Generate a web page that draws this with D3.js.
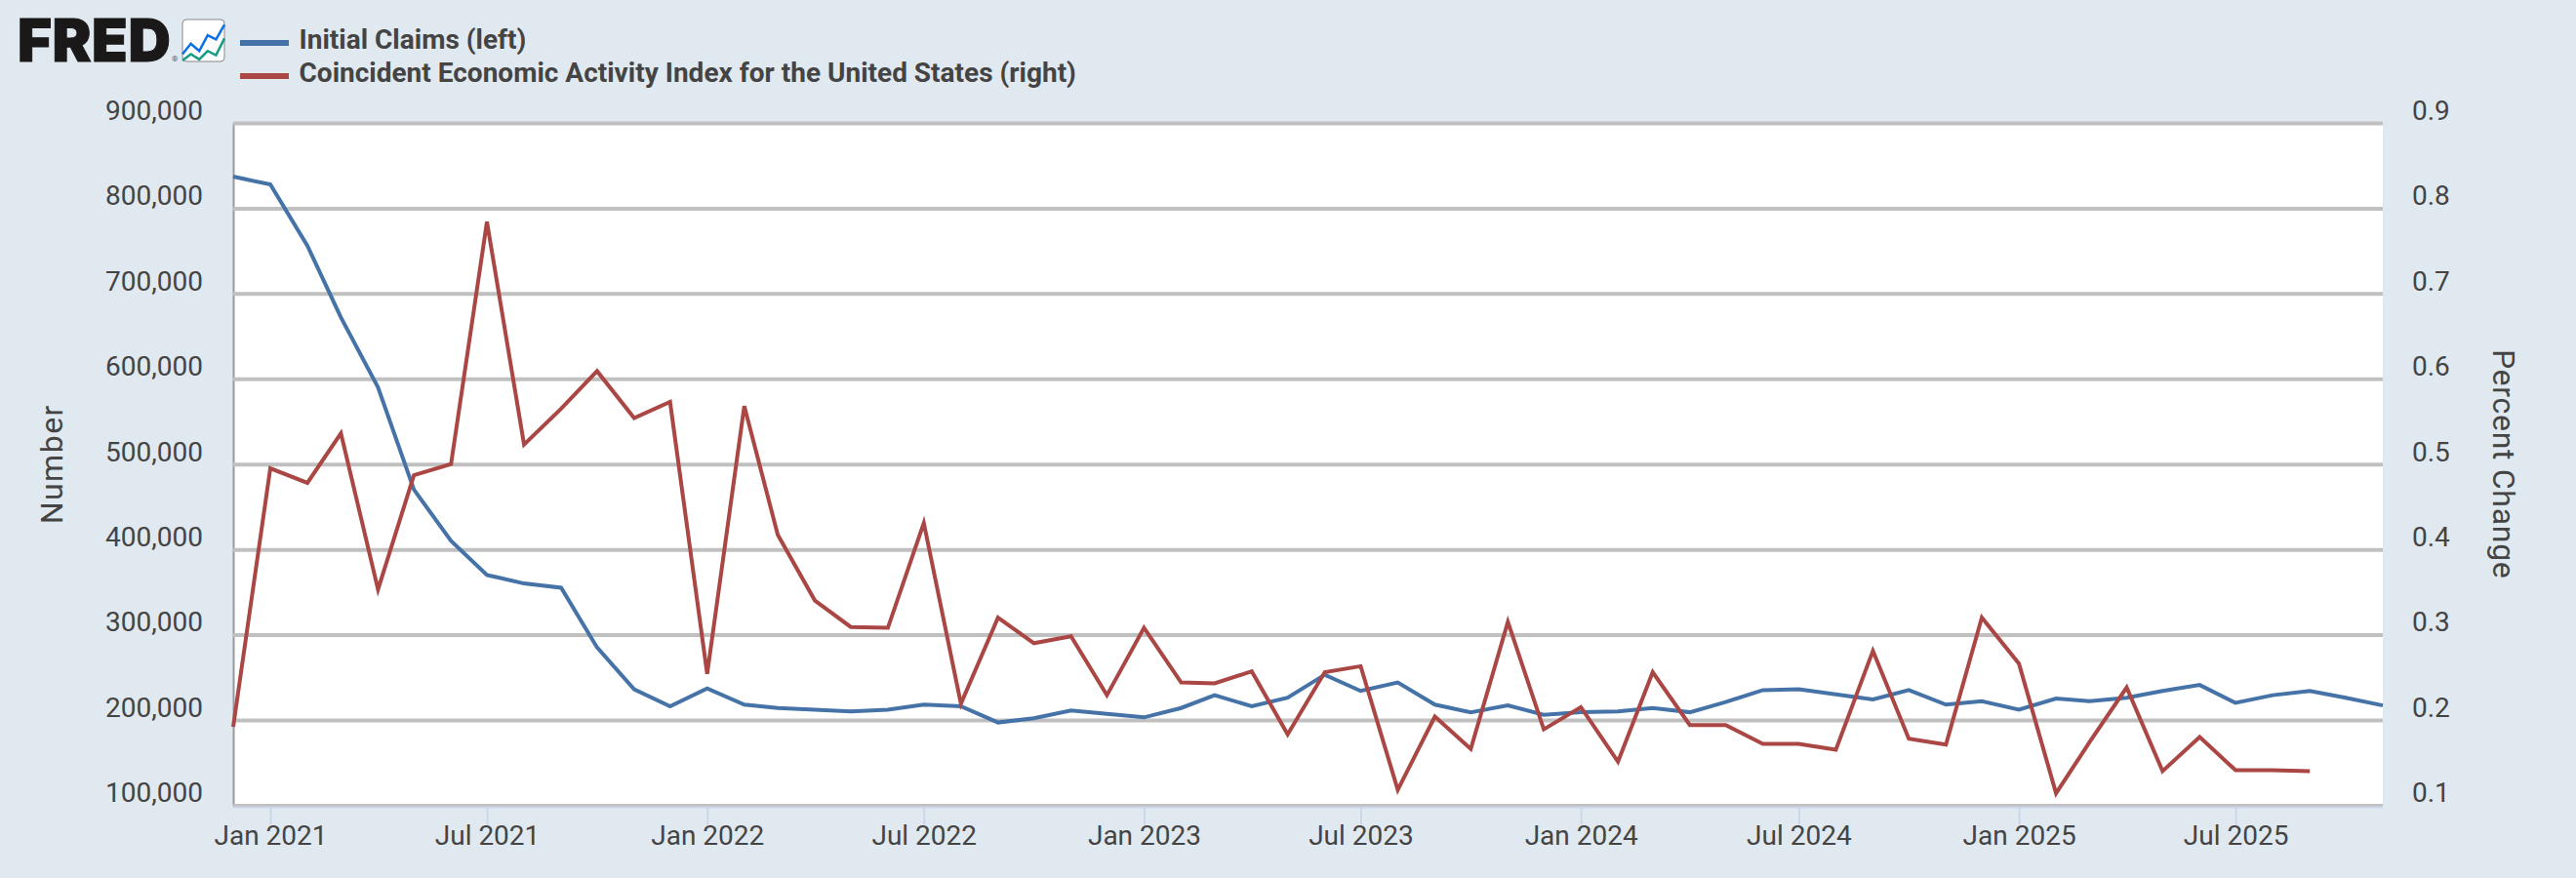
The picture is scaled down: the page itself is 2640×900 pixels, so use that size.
<!DOCTYPE html>
<html>
<head>
<meta charset="utf-8">
<script src="https://cdn.jsdelivr.net/npm/d3@7"></script>
<style>
  html, body { margin: 0; padding: 0; background: #e1e9f0; }
  svg { display: block; }
  text { font-family: Roboto, sans-serif; fill: #444; }
</style>
</head>
<body>
<script>
// monthly, Dec 2020 to Nov 2025
var claims = [837000,
  828000,756000,672000,590000,470000,410000,370000,360000,355000,285000,236000,216000,
  237000,218000,214000,212000,210000,212000,218000,216000,197000,202000,211000,207000,
  203000,214000,229000,216000,226000,253000,234000,244000,218000,209000,217000,206000,
  209000,210000,214000,209000,221000,235000,236000,230000,224000,235000,218000,222000,
  212000,225000,222000,226000,234000,241000,220000,229000,234000,226000,217000];

// monthly, Dec 2020 to Sep 2025
var coincident = [0.192,
  0.495,0.478,0.536,0.353,0.487,0.500,0.784,0.523,0.565,0.609,0.554,0.573,
  0.254,0.568,0.417,0.340,0.309,0.308,0.431,0.219,0.320,0.290,0.298,0.229,
  0.308,0.244,0.243,0.257,0.183,0.256,0.263,0.118,0.204,0.166,0.315,0.189,
  0.215,0.151,0.256,0.194,0.194,0.172,0.172,0.165,0.281,0.178,0.171,0.320,
  0.266,0.114,0.174,0.238,0.140,0.180,0.141,0.141,0.140];

var leftTicks = [100000,200000,300000,400000,500000,600000,700000,800000,900000];
var rightTicks = [0.1,0.2,0.3,0.4,0.5,0.6,0.7,0.8,0.9];
var dateTicks = ['2021-01','2021-07','2022-01','2022-07','2023-01','2023-07','2024-01','2024-07','2025-01','2025-07'];
var legendLabels = ['Initial Claims (left)', 'Coincident Economic Activity Index for the United States (right)'];
var iconBlue = [2,12,5,20,16,30];
var iconGreen = [-4,2,-3,5,1,17];

var width = 2640,
    height = 900,
    left = 239,
    right = 2442,
    top_ = 126,
    bottom = 825.4;

var svg = d3.select('body').append('svg')
    .attr('width', width)
    .attr('height', height);

var parseMonth = d3.utcParse('%Y-%m');
var months = d3.utcMonth.range(parseMonth('2020-12'), parseMonth('2025-12'));

var x = d3.scaleUtc().domain([months[0], months[59]]).range([left, right]);
var yLeft = d3.scaleLinear().domain([100000, 900000]).range([bottom, top_]);
var yRight = d3.scaleLinear().domain([0.1, 0.9]).range([bottom, top_]);

svg.append('rect')
    .attr('x', left).attr('y', top_)
    .attr('width', right - left).attr('height', bottom - top_)
    .attr('fill', '#fff');

// gridlines and left labels
var leftAxis = svg.append('g')
    .attr('transform', 'translate(' + left + ',0)')
    .call(d3.axisLeft(yLeft).tickValues(leftTicks).tickSize(-(right - left)).tickSizeOuter(0).tickPadding(31).tickFormat(d3.format(',')));
leftAxis.selectAll('.tick line').attr('stroke', '#c0c0c0').attr('stroke-width', 4);
leftAxis.selectAll('.tick text').attr('dy', -3.7).style('font-size', '28px').attr('text-anchor', 'end');
leftAxis.select('.domain').attr('stroke', '#999').attr('stroke-width', 2);

var rightAxis = svg.append('g')
    .attr('transform', 'translate(' + right + ',0)')
    .call(d3.axisRight(yRight).tickValues(rightTicks).tickSize(0).tickPadding(30).tickFormat(d3.format('.1f')));
rightAxis.selectAll('.tick text').attr('dy', -3.7).style('font-size', '28px');
rightAxis.select('.domain').remove();

var bottomAxis = svg.append('g')
    .attr('transform', 'translate(0,' + (bottom + 2) + ')')
    .call(d3.axisBottom(x).tickValues(dateTicks.map(parseMonth)).tickSize(18).tickPadding(1).tickFormat(d3.utcFormat('%b %Y')));
bottomAxis.selectAll('.tick line').attr('stroke', '#ccd6eb').attr('stroke-width', 2);
bottomAxis.selectAll('.tick text').style('font-size', '28px');
bottomAxis.select('.domain').attr('d', 'M' + (left + 1) + ',0H' + right).attr('stroke', '#ccd6eb').attr('stroke-width', 2);

// axis titles
svg.append('text')
    .attr('transform', 'translate(64,' + (top_ + bottom) / 2 + ') rotate(-90)')
    .attr('text-anchor', 'middle')
    .style('font-size', '32px').style('letter-spacing', '1.5px')
    .text('Number');

svg.append('text')
    .attr('transform', 'translate(2555,' + (top_ + bottom) / 2 + ') rotate(90)')
    .attr('text-anchor', 'middle')
    .style('font-size', '32px').style('letter-spacing', '0.7px')
    .text('Percent Change');

// series
var claimsLine = d3.line()
    .x(function(d, i) { return x(months[i]); })
    .y(function(d) { return yLeft(d); });

var coincidentLine = d3.line()
    .x(function(d, i) { return x(months[i]); })
    .y(function(d) { return yRight(d); });

svg.append('path').datum(claims)
    .attr('d', claimsLine)
    .attr('fill', 'none').attr('stroke', '#4572a7').attr('stroke-width', 4)
    .attr('stroke-linejoin', 'miter');

svg.append('path').datum(coincident)
    .attr('d', coincidentLine)
    .attr('fill', 'none').attr('stroke', '#aa4643').attr('stroke-width', 4)
    .attr('stroke-linejoin', 'miter');

// legend
var legendColors = ['#4572a7', '#aa4643'];
var legend = svg.selectAll('.legend').data(legendLabels).enter().append('g')
    .attr('class', 'legend')
    .attr('transform', function(d, i) { return 'translate(246,' + (44 + i * 34) + ')'; });
legend.append('line')
    .attr('x2', 50)
    .attr('stroke', function(d, i) { return legendColors[i]; })
    .attr('stroke-width', 6);
legend.append('text')
    .attr('x', 60.5).attr('y', 6)
    .style('font-size', '28px').style('font-weight', 700)
    .text(function(d) { return d; });

// FRED logo
svg.append('text')
    .attr('x', 18).attr('y', 63)
    .style('font-family', 'Inter, sans-serif').style('font-size', '60px').style('font-weight', 900)
    .style('letter-spacing', '0.5px').style('fill', '#1a1818')
    .style('stroke', '#1a1818').style('stroke-width', 1)
    .text('FRED');
svg.append('text')
    .attr('x', 176).attr('y', 63)
    .style('font-size', '8px').style('fill', '#555')
    .text('®');

var icon = svg.append('g').attr('transform', 'translate(187,20)');
icon.append('rect')
    .attr('width', 43).attr('height', 43).attr('rx', 4)
    .attr('fill', '#fff').attr('stroke', '#888').attr('stroke-width', 1);
var iconX = d3.scaleLinear().domain([0, 5]).range([0, 43]);
var iconY = d3.scaleLinear().domain([-5, 35]).range([43, 0]);
var iconLine = d3.line()
    .x(function(d, i) { return iconX(i); })
    .y(function(d) { return iconY(d); });
icon.append('path').datum(iconBlue).attr('d', iconLine)
    .attr('fill', 'none').attr('stroke', '#0a6fe8').attr('stroke-width', 2.5);
icon.append('path').datum(iconGreen).attr('d', iconLine)
    .attr('fill', 'none').attr('stroke', '#179c84').attr('stroke-width', 2.5);
</script>
</body>
</html>
